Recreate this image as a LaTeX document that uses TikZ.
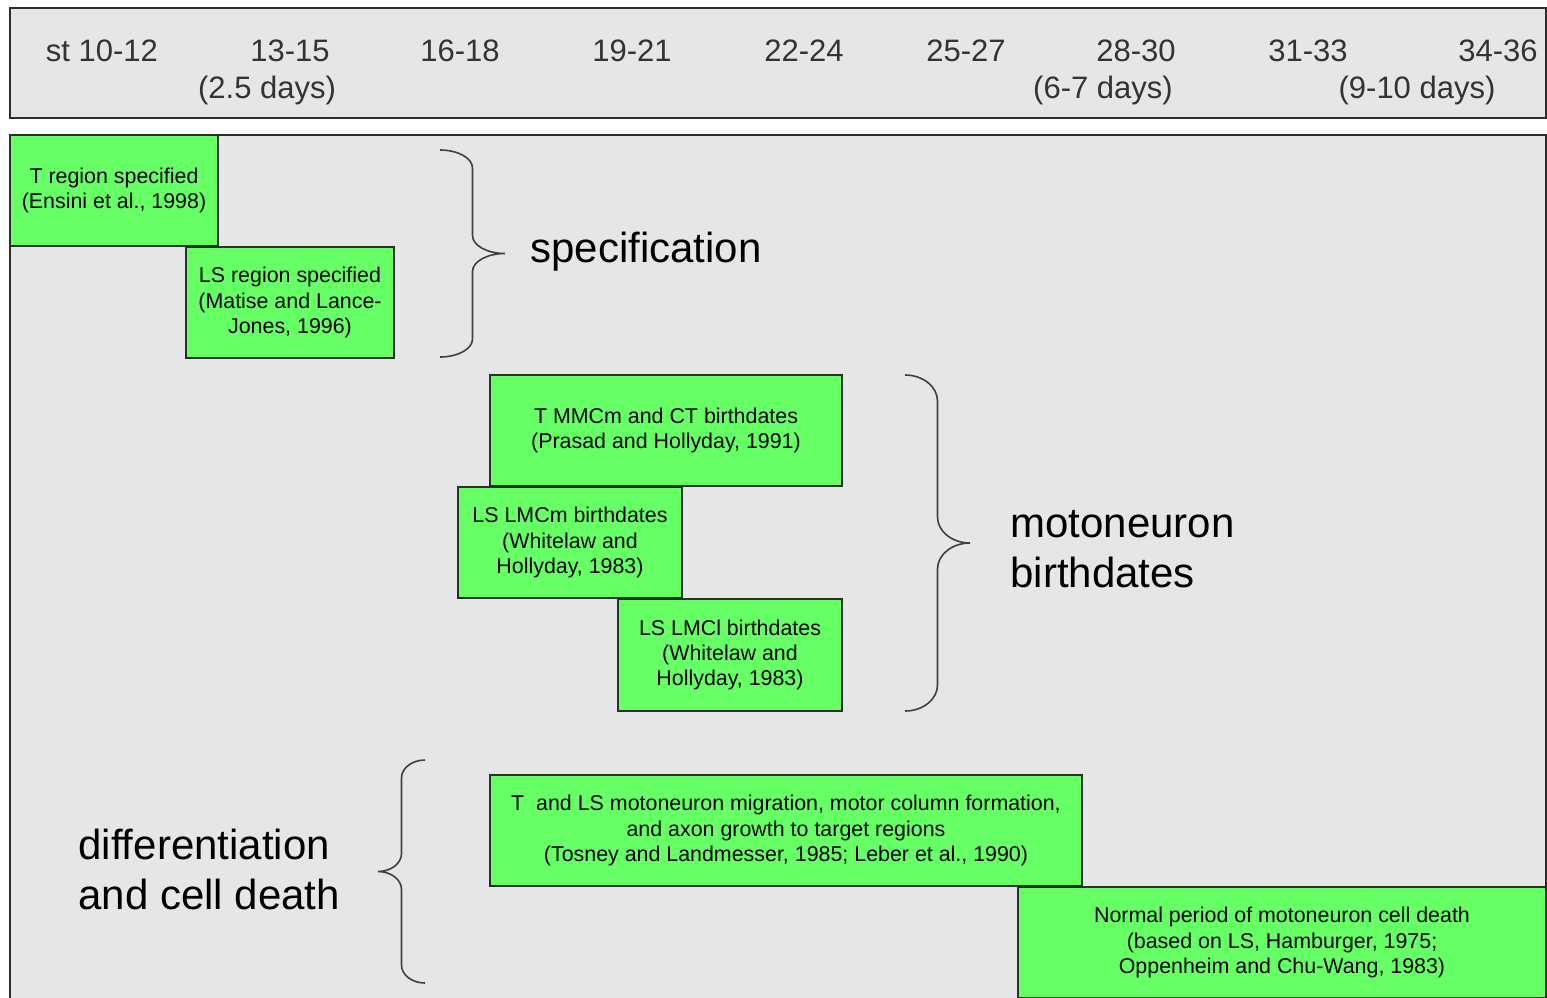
\documentclass[tikz,border=0pt]{standalone}
\usepackage{fontspec}
\setmainfont{Liberation Sans}
\usetikzlibrary{positioning}
\definecolor{panelgray}{RGB}{230,230,230}
\definecolor{boxgreen}{RGB}{102,255,102}
\definecolor{edgegray}{RGB}{45,45,45}
% brace: #1 end x, #2 tip x, #3 top y, #4 bottom y, #5 bend
\newcommand{\curlybrace}[5]{%
  \pgfmathsetmacro{\bxm}{(#1+#2)/2}%
  \pgfmathsetmacro{\bym}{(#3+#4)/2}%
  \pgfmathsetmacro{\bdx}{0.552*(#2-#1)/2}%
  \pgfmathsetmacro{\bdy}{0.552*#5}%
  \draw[bracestyle] (#1,#3) .. controls ({#1+\bdx},#3) and (\bxm,{#3+#5-\bdy}) .. (\bxm,{#3+#5})
    -- (\bxm,{\bym-#5}) .. controls (\bxm,{\bym-#5+\bdy}) and ({#2-\bdx},\bym) .. (#2,\bym)
    .. controls ({#2-\bdx},\bym) and (\bxm,{\bym+#5-\bdy}) .. (\bxm,{\bym+#5})
    -- (\bxm,{#4-#5}) .. controls (\bxm,{#4-#5+\bdy}) and ({#1+\bdx},#4) .. (#1,#4);}
\tikzset{
  panel/.style={draw=edgegray, line width=1pt, fill=panelgray},
  greenbox/.style={draw=edgegray, line width=0.9pt, fill=boxgreen, inner sep=0pt,
    align=center, font=\fontsize{10.7}{12.6}\selectfont, text=black},
  stagelbl/.style={anchor=base, font=\fontsize{15.5}{18}\selectfont, text=black!80, inner sep=0pt},
  grouplbl/.style={anchor=west, align=left, font=\fontsize{21}{25}\selectfont, inner sep=0pt},
  bracestyle/.style={draw=black!75, line width=0.8pt}
}
\begin{document}
\begin{tikzpicture}[x=0.5pt, y=-0.5pt]
			%%%%% START %%%%%
			\useasboundingbox (0,0) rectangle (1547,997);
			
			% stage header
			\draw[panel] (10,8) rectangle (1546,118);
			\node[stagelbl] (st1) at (102,61) {st 10-12};
			\node[stagelbl] (st2) at (290,61) {13-15};
			\node[stagelbl] (st3) at (460,61) {16-18};
			\node[stagelbl] (st4) at (632,61) {19-21};
			\node[stagelbl] (st5) at (804,61) {22-24};
			\node[stagelbl] (st6) at (966,61) {25-27};
			\node[stagelbl] (st7) at (1136,61) {28-30};
			\node[stagelbl] (st8) at (1308,61) {31-33};
			\node[stagelbl] (st9) at (1498,61) {34-36};
			\node[stagelbl] (day1) at (267,98) {(2.5 days)};
			\node[stagelbl] (day2) at (1103,98) {(6-7 days)};
			\node[stagelbl] (day3) at (1417,98) {(9-10 days)};
			
			% main panel
			\draw[panel] (10,135) rectangle (1546,1010);
			
			% specification
			\node[greenbox, minimum width=104pt, minimum height=55.5pt] (tspec) at (114,190.5)
			  {T region specified\\(Ensini et al., 1998)};
			\node[greenbox, minimum width=104pt, minimum height=55.5pt] (lsspec) at (290,302.5)
			  {LS region specified\\(Matise and Lance-\\Jones, 1996)};
			\curlybrace{440}{505}{150}{357}{18}
			\node[grouplbl] (speclbl) at (530,252) {specification};
			
			% birthdates
			\node[greenbox, minimum width=176pt, minimum height=55.5pt] (tmmc) at (666,430.5)
			  {T MMCm and CT birthdates\\(Prasad and Hollyday, 1991)};
			\node[greenbox, minimum width=112pt, minimum height=55.5pt] (lslmcm) at (570,542.5)
			  {LS LMCm birthdates\\(Whitelaw and\\Hollyday, 1983)};
			\node[greenbox, minimum width=112pt, minimum height=56pt] (lslmcl) at (730,655)
			  {LS LMCl birthdates\\(Whitelaw and\\Hollyday, 1983)};
			\curlybrace{905}{970}{375}{711}{26}
			\node[grouplbl] (birthlbl) at (1010,549) {motoneuron\\birthdates};
			
			% differentiation and cell death
			\node[greenbox, minimum width=296pt, minimum height=55.5pt] (migr) at (786,830.5)
			  {T\ \ and LS motoneuron migration, motor column formation,\\and axon growth to target regions\\(Tosney and Landmesser, 1985; Leber et al., 1990)};
			\node[greenbox, minimum width=264pt, minimum height=55.5pt] (death) at (1282,942.5)
			  {Normal period of motoneuron cell death\\(based on LS, Hamburger, 1975;\\Oppenheim and Chu-Wang, 1983)};
			\curlybrace{425}{378}{760}{983}{18}
			\node[grouplbl] (difflbl) at (78,869) {differentiation\\and cell death};
			
			%%%%% END %%%%%
\end{tikzpicture}
\end{document}
